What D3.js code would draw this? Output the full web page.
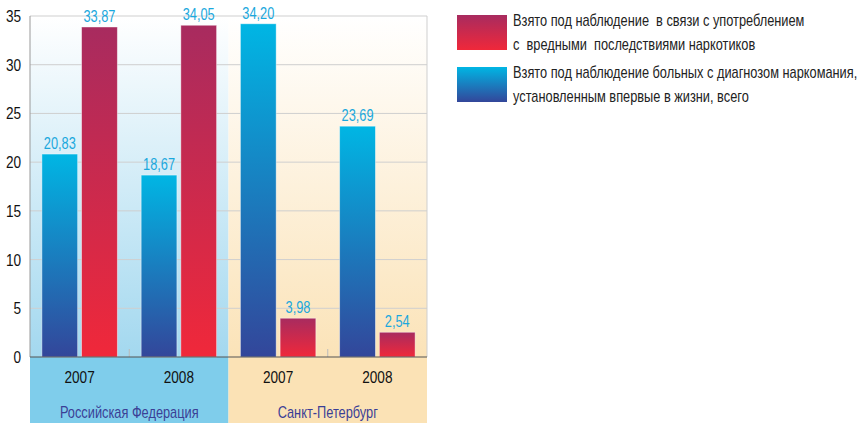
<!DOCTYPE html>
<html>
<head>
<meta charset="utf-8">
<script src="https://cdn.jsdelivr.net/npm/d3@7"></script>
<style>
  body { margin: 0; background: #fff; }
  svg { display: block; font-family: "Liberation Sans", Arial, sans-serif; }
</style>
</head>
<body>
<svg id="chart"></svg>
<script>
// data
var regions = ["Российская Федерация", "Санкт-Петербург"];
var years = ["2007", "2008"];
var seriesNames = [
    ["Взято под наблюдение  в связи с употреблением", "с  вредными  последствиями наркотиков"],
    ["Взято под наблюдение больных с диагнозом наркомания,", "установленным впервые в жизни, всего"]
];
var harmfulUse = [33.87, 34.05, 3.98, 2.54];
var addiction = [20.83, 18.67, 34.20, 23.69];
var yTicks = [0, 5, 10, 15, 20, 25, 30, 35];

var width = 857, height = 423;
var plotLeft = 30, plotRight = 427, plotTop = 16, plotBottom = 357;
var narrow = 0.8; // squeeze text like a condensed face

var svg = d3.select("#chart").attr("width", width).attr("height", height);
var defs = svg.append("defs");

function vgrad(id, c1, c2) {
    var g = defs.append("linearGradient").attr("id", id)
        .attr("x1", 0).attr("y1", 0).attr("x2", 0).attr("y2", 1);
    g.append("stop").attr("offset", "0%").attr("stop-color", c1);
    g.append("stop").attr("offset", "100%").attr("stop-color", c2);
}
vgrad("gRed", "#a82b5f", "#f0283a");
vgrad("gBlue", "#00b6e4", "#33469a");
vgrad("bgBlue", "#ffffff", "#a3d8ef");
vgrad("bgBeige", "#ffffff", "#fbe3b8");

function place(xf, yf) {
    return function(d, i) {
        return "translate(" + xf(d, i) + "," + yf(d, i) + ") scale(" + narrow + ",1)";
    };
}

var groups = [];
regions.forEach(function(r) { years.forEach(function(y) { groups.push(r + "|" + y); }); });

var x = d3.scaleBand().domain(groups).range([plotLeft, plotRight]).paddingInner(0).paddingOuter(0);
var xInner = d3.scaleBand().domain(["addiction", "harmful"]).range([0, x.bandwidth()])
    .paddingInner(0.1).paddingOuter(0.3);
var y = d3.scaleLinear().domain([0, 35]).range([plotBottom, plotTop]);

var regionX = d3.scaleBand().domain(regions).range([plotLeft, plotRight]);

// backgrounds
svg.selectAll(".bg").data(regions).enter().append("rect")
    .attr("x", function(d) { return regionX(d); })
    .attr("y", plotTop)
    .attr("width", regionX.bandwidth())
    .attr("height", plotBottom - plotTop)
    .attr("fill", function(d, i) { return i == 0 ? "url(#bgBlue)" : "url(#bgBeige)"; });

svg.selectAll(".band").data(regions).enter().append("rect")
    .attr("x", function(d) { return regionX(d); })
    .attr("y", plotBottom)
    .attr("width", regionX.bandwidth())
    .attr("height", height - plotBottom)
    .attr("fill", function(d, i) { return i == 0 ? "#7fcdeb" : "#fbe2b5"; });

// gridlines
svg.append("g").selectAll("line").data(yTicks.slice(1)).enter().append("line")
    .attr("x1", plotLeft).attr("x2", plotRight)
    .attr("y1", function(d) { return y(d); }).attr("y2", function(d) { return y(d); })
    .attr("stroke", "#cfcfcf").attr("stroke-width", 1);
svg.append("line").attr("x1", plotRight).attr("x2", plotRight).attr("y1", plotTop).attr("y2", plotBottom)
    .attr("stroke", "#cfcfcf");

// bars
var barData = [];
groups.forEach(function(g, i) {
    barData.push({ key: g, s: "addiction", v: addiction[i] });
    barData.push({ key: g, s: "harmful", v: harmfulUse[i] });
});

var bars = svg.append("g");
bars.selectAll("rect").data(barData).enter().append("rect")
    .attr("x", function(d) { return x(d.key) + xInner(d.s); })
    .attr("y", function(d) { return y(d.v); })
    .attr("width", xInner.bandwidth())
    .attr("height", function(d) { return y(0) - y(d.v); })
    .attr("fill", function(d) { return d.s == "harmful" ? "url(#gRed)" : "url(#gBlue)"; })
    .attr("stroke", "#ffffff").attr("stroke-opacity", 0.5).attr("stroke-width", 0.8);

bars.selectAll("text").data(barData).enter().append("text")
    .attr("transform", place(
        function(d) { return x(d.key) + xInner(d.s) + xInner.bandwidth() / 2; },
        function(d) { return y(d.v) - 5; }))
    .attr("text-anchor", "middle")
    .attr("font-size", 16)
    .attr("fill", "#1ba8dd")
    .text(function(d) { return d3.format(".2f")(d.v).replace(".", ","); });

// small separators at bottom
svg.selectAll(".sep").data([groups[1], groups[3]]).enter().append("line")
    .attr("x1", function(d) { return x(d); }).attr("x2", function(d) { return x(d); })
    .attr("y1", plotBottom - 8).attr("y2", plotBottom)
    .attr("stroke", "#bbbbbb");

// axes lines
svg.append("line").attr("x1", plotLeft).attr("x2", plotLeft).attr("y1", plotTop).attr("y2", plotBottom)
    .attr("stroke", "#999");
svg.append("line").attr("x1", plotLeft).attr("x2", plotRight).attr("y1", plotBottom).attr("y2", plotBottom)
    .attr("stroke", "#555").attr("stroke-width", 1.2);

// y tick labels
svg.append("g").selectAll("text").data(yTicks).enter().append("text")
    .attr("transform", place(function() { return 21; }, function(d) { return y(d) + 6; }))
    .attr("text-anchor", "end").attr("font-size", 17).attr("fill", "#111")
    .text(function(d) { return d; });

// year labels
svg.append("g").selectAll("text").data(groups).enter().append("text")
    .attr("transform", place(function(d) { return x(d) + x.bandwidth() / 2; }, function() { return 383; }))
    .attr("text-anchor", "middle").attr("font-size", 17).attr("fill", "#111")
    .text(function(d) { return d.split("|")[1]; });

// region labels
svg.append("g").selectAll("text").data(regions).enter().append("text")
    .attr("transform", place(function(d) { return regionX(d) + regionX.bandwidth() / 2; }, function() { return 418; }))
    .attr("text-anchor", "middle").attr("font-size", 16).attr("fill", "#3b3f96")
    .text(function(d) { return d; });

// legend
var legend = svg.append("g").attr("transform", "translate(457,15)");
var legItems = legend.selectAll("g").data(seriesNames).enter().append("g")
    .attr("transform", function(d, i) { return "translate(0," + i * 52 + ")"; });
legItems.append("rect")
    .attr("width", 50).attr("height", 35)
    .attr("fill", function(d, i) { return i == 0 ? "url(#gRed)" : "url(#gBlue)"; });
legItems.append("text")
    .attr("transform", "translate(56,11) scale(" + narrow + ",1)")
    .attr("font-size", 16).attr("fill", "#222")
    .style("white-space", "pre")
    .selectAll("tspan").data(function(d) { return d; }).enter().append("tspan")
    .attr("x", 0).attr("dy", function(d, i) { return i == 0 ? 0 : 24; })
    .text(function(d) { return d; });
</script>
</body>
</html>
